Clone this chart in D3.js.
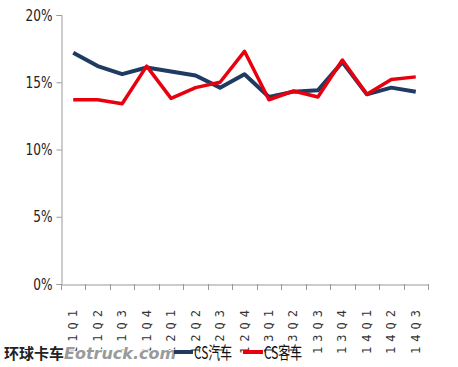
<!DOCTYPE html>
<html><head><meta charset="utf-8">
<script src="https://cdn.jsdelivr.net/npm/d3@7"></script>
<style>body{margin:0;background:#fff}</style>
</head><body>
<svg id="c" width="458" height="367"></svg>
<script>
const categories = ["11Q1","11Q2","11Q3","11Q4","12Q1","12Q2","12Q3","12Q4","13Q1","13Q2","13Q3","13Q4","14Q1","14Q2","14Q3"];
const carSeries = [17.2,16.2,15.6,16.1,15.8,15.5,14.6,15.6,13.9,14.3,14.4,16.5,14.1,14.6,14.3];
const busSeries = [13.7,13.7,13.4,16.2,13.8,14.6,15.0,17.3,13.7,14.35,13.9,16.65,14.1,15.2,15.4];
const yTicks = [0,5,10,15,20];
const seriesNames = ["CS汽车","CS客车"];

const svg = d3.select("#c");
const x = d3.scaleBand().domain(categories).range([61, 428]);
const y = d3.scaleLinear().domain([0,20]).range([284, 15]);
const narrow = "'Liberation Sans Narrow','Arial Narrow','DejaVu Sans Condensed',sans-serif";

// y axis
const ya = svg.append("g").attr("transform","translate(61.5,0)")
  .call(d3.axisLeft(y).tickValues(yTicks).tickSize(5).tickFormat(d=>d+"%"));
ya.selectAll("path,line").attr("stroke","#999");
ya.selectAll("text").attr("font-family",narrow).attr("font-size",15).attr("fill","#222").attr("dx",-2)
  .attr("transform","scale(0.9,1.05)");

// x axis
const xa = svg.append("g").attr("transform","translate(0,284.5)")
  .call(d3.axisBottom(x).tickSize(0).tickFormat(""));
xa.select("path").attr("stroke","#999");
const bounds = categories.map(c=>x(c)).concat([x.range()[1]]);
svg.append("g").selectAll("line").data(bounds).join("line")
  .attr("x1",d=>Math.round(d)+0.5).attr("x2",d=>Math.round(d)+0.5)
  .attr("y1",284).attr("y2",290).attr("stroke","#999");
svg.append("g").selectAll("text").data(categories).join("text")
  .attr("transform",d=>`translate(${x(d)+x.bandwidth()/2+4},305) rotate(-90)`)
  .attr("text-anchor","end")
  .attr("font-family","'DejaVu Sans Mono',monospace")
  .attr("font-size",12).attr("letter-spacing",5).attr("fill","#333")
  .text(d=>d);

// lines
const line = d3.line().x((d,i)=>x(categories[i])+x.bandwidth()/2).y(d=>y(d));
svg.append("path").datum(carSeries).attr("d",line).attr("fill","none")
  .attr("stroke","#1f3b62").attr("stroke-width",4).attr("stroke-linejoin","round");
svg.append("path").datum(busSeries).attr("d",line).attr("fill","none")
  .attr("stroke","#e8000f").attr("stroke-width",3.5).attr("stroke-linejoin","round");

// watermark
const wm = svg.append("text").attr("x",4).attr("y",359)
  .attr("font-family","'Noto Sans CJK SC',sans-serif").attr("font-weight","bold")
  .attr("font-size",15).attr("stroke","#fff").attr("stroke-width",2).attr("paint-order","stroke");
wm.append("tspan").attr("fill","#222").text("环球卡车");
wm.append("tspan").attr("fill","#9a9a9a").attr("font-style","italic")
  .attr("font-family","'DejaVu Sans',sans-serif").attr("font-size",16).text("Eotruck.com");

// legend
const legend = [{name:seriesNames[0],color:"#1f3b62",x0:174,x1:193,tx:194},
                {name:seriesNames[1],color:"#e8000f",x0:243,x1:263,tx:264}];
legend.forEach(l=>{
  svg.append("line").attr("x1",l.x0).attr("x2",l.x1).attr("y1",352).attr("y2",352)
    .attr("stroke",l.color).attr("stroke-width",4);
  svg.append("text").attr("x",l.tx).attr("y",359)
    .attr("font-family","'Noto Sans CJK SC',sans-serif")
    .attr("font-size",17).attr("fill","#111")
    .attr("transform",`translate(${l.tx},0) scale(0.7,1) translate(${-l.tx},0)`)
    .text(l.name);
});
</script>
</body></html>
